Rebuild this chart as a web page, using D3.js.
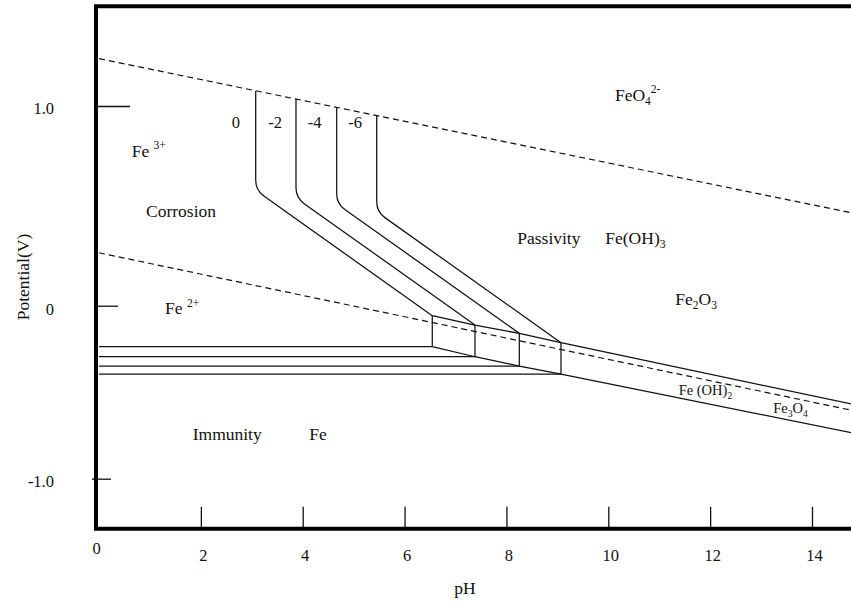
<!DOCTYPE html>
<html>
<head>
<meta charset="utf-8">
<script src="https://cdn.jsdelivr.net/npm/d3@7"></script>
<style>
  html, body { margin: 0; padding: 0; background: #fff; }
  svg { display: block; }
  text { font-family: "Liberation Serif", "Times New Roman", serif; fill: #111; }
</style>
</head>
<body>
<svg id="chart" width="851" height="603"></svg>
<script>
// ---------------- DATA ----------------
const pHTicks = [0, 2, 4, 6, 8, 10, 12, 14];
const VTicks = [-1, 0, 1];
const concLabels = ["0", "-2", "-4", "-6"];           // log activity of dissolved iron
const vertPH    = [3.077, 3.868, 4.667, 5.453];      // Fe3+/Fe2O3 boundary pH
const vertTopV  = [1.075, 1.035, 0.991, 0.950];      // top of vertical (on O2 line)
const cornerV   = [0.578, 0.540, 0.511, 0.470];      // Fe3+/Fe2+ corner potential
const kinkPH    = [6.544, 7.383, 8.253, 9.071];      // Fe2+/Fe2O3 meets oxide boundary
const kinkV     = [-0.058, -0.112, -0.160, -0.214];
const feV       = [-0.237, -0.295, -0.349, -0.395];  // Fe/Fe2+ potential
const o2Line    = [[0, 1.237], [14.8, 0.464]];       // dashed upper water line
const h2Line    = [[0, 0.265], [14.8, -0.606]];      // dashed lower water line
const upperEnd  = [14.8, -0.570];                    // Fe2O3 / Fe3O4 boundary end
const lowerEnd  = [14.8, -0.736];                    // Fe3O4 / Fe boundary end
const pHRange   = [0, 14.8];
const VRange    = [-1.29, 1.5];

const regionLabels = [
  { parts: [["Fe ", ""], ["3+", "sup"]], at: [0.642, 0.747] },
  { parts: [["Corrosion", ""]], at: [0.923, 0.444] },
  { parts: [["Fe ", ""], ["2+", "sup"]], at: [1.296, -0.048] },
  { parts: [["FeO", ""], ["4", "sub"], ["2-", "sup"]], at: [10.13, 1.027] },
  { parts: [["Passivity", ""]], at: [8.213, 0.309] },
  { parts: [["Fe(OH", ""], [")", ""], ["3", "sub"]], at: [9.941, 0.309] },
  { parts: [["Fe", ""], ["2", "sub"], ["O", ""], ["3", "sub"]], at: [11.316, 0.0035] },
  { parts: [["Fe (OH)", ""], ["2", "sub"]], at: [11.382, -0.516], small: true },
  { parts: [["Fe", ""], ["3", "sub"], ["O", ""], ["4", "sub"]], at: [13.24, -0.622], small: true },
  { parts: [["Immunity", ""]], at: [1.84, -0.776] },
  { parts: [["Fe", ""]], at: [4.129, -0.776] }
];
const concLabelPos = [[2.606, 0.888], [3.324, 0.888], [4.098, 0.888], [4.895, 0.888]];

// ---------------- SCALES ----------------
const W = 851, H = 603;
const svg = d3.select("#chart");
const x = d3.scaleLinear().domain([0, 14]).range([99, 812]);
const y = d3.scaleLinear().domain([-1, 0, 1]).range([478.7, 305.7, 106]);

const thin = 1.25;
const line = d3.line().x(d => x(d[0])).y(d => y(d[1]));

// ---------------- WATER LINES (dashed) ----------------
[o2Line, h2Line].forEach(l => {
  svg.append("path").attr("d", line(l))
    .attr("fill", "none").attr("stroke", "#111")
    .attr("stroke-width", 1.2).attr("stroke-dasharray", "6,4");
});

// ---------------- CONCENTRATION BOUNDARIES ----------------
const bend = 10;
concLabels.forEach((c, i) => {
  const tx = x(vertPH[i]), ty = y(vertTopV[i]);
  const cx = x(vertPH[i]), cy = y(cornerV[i]);
  const kx = x(kinkPH[i]), ky = y(kinkV[i]);
  const len = Math.hypot(kx - cx, ky - cy);
  const ux = (kx - cx) / len, uy = (ky - cy) / len;
  const p = d3.path();
  p.moveTo(tx, ty);
  p.lineTo(cx, cy - bend);
  p.quadraticCurveTo(cx, cy, cx + ux * bend, cy + uy * bend);
  p.lineTo(kx, ky);
  svg.append("path").attr("d", p.toString())
    .attr("fill", "none").attr("stroke", "#111").attr("stroke-width", thin);
  // vertical at kink down to Fe line
  svg.append("path").attr("d", line([[kinkPH[i], kinkV[i]], [kinkPH[i], feV[i]]]))
    .attr("fill", "none").attr("stroke", "#111").attr("stroke-width", thin);
  // horizontal Fe / Fe2+ line
  svg.append("path").attr("d", line([[pHRange[0], feV[i]], [kinkPH[i], feV[i]]]))
    .attr("fill", "none").attr("stroke", "#111").attr("stroke-width", thin);
  // label
  svg.append("text").attr("x", x(concLabelPos[i][0])).attr("y", y(concLabelPos[i][1]))
    .attr("font-size", 16.5).text(c);
});

// oxide boundaries
const upperPts = kinkPH.map((p, i) => [p, kinkV[i]]).concat([upperEnd]);
const lowerPts = kinkPH.map((p, i) => [p, feV[i]]).concat([lowerEnd]);
[upperPts, lowerPts].forEach(pts => {
  svg.append("path").attr("d", line(pts))
    .attr("fill", "none").attr("stroke", "#111").attr("stroke-width", thin);
});

// ---------------- REGION LABELS ----------------
regionLabels.forEach(l => {
  const base = l.small ? 14.5 : 17.5;
  const t = svg.append("text").attr("x", x(l.at[0])).attr("y", y(l.at[1]))
    .attr("font-size", base);
  let cur = 0;
  l.parts.forEach(([s, kind]) => {
    const target = kind === "sub" ? base * 0.25 : kind === "sup" ? -base * 0.42 : 0;
    const fs = kind === "" ? base : base * 0.66;
    t.append("tspan").attr("dy", target - cur).attr("font-size", fs).text(s);
    cur = target;
  });
});

// ---------------- AXES ----------------
const x0 = x(0) - 3;
const yTop = y(VRange[1]), yBot = y(VRange[0]);

const xAxis = d3.axisBottom(x).tickValues(pHTicks).tickSizeInner(-22).tickSizeOuter(0)
  .tickFormat(d => String(d));
const gx = svg.append("g").attr("transform", `translate(0,${yBot})`).call(xAxis);
gx.select(".domain").remove();
gx.selectAll(".tick line").attr("stroke", "#111").attr("stroke-width", 1.3)
  .attr("display", d => d === 0 ? "none" : null);
gx.selectAll(".tick text")
  .attr("font-family", "Liberation Serif").attr("font-size", 16.5).attr("fill", "#111")
  .attr("dy", 0)
  .attr("y", d => d === 0 ? 25 : 32)
  .attr("dx", d => d === 0 ? -3 : 2);

const yTickSpan = { "-1": [-4, 15], "0": [0, 22], "1": [0, 34] };
const yAxis = d3.axisLeft(y).tickValues(VTicks).tickSizeInner(-22).tickSizeOuter(0)
  .tickFormat(d => d === 0 ? "0" : d.toFixed(1));
const gy = svg.append("g").attr("transform", `translate(${x0},0)`).call(yAxis);
gy.select(".domain").remove();
gy.selectAll(".tick line").attr("stroke", "#111").attr("stroke-width", 1.3)
  .attr("x1", d => yTickSpan[String(d)][0]).attr("x2", d => yTickSpan[String(d)][1]);
gy.selectAll(".tick text")
  .attr("font-family", "Liberation Serif").attr("font-size", 16.5).attr("fill", "#111")
  .attr("x", -42).attr("dy", d => d === 0 ? "0.55em" : "0.45em");

// ---------------- FRAME ----------------
svg.append("path")
  .attr("d", `M${W + 10},${yTop} L${x0},${yTop} L${x0},${yBot} L${W + 10},${yBot}`)
  .attr("fill", "none").attr("stroke", "#000").attr("stroke-width", 4)
  .attr("stroke-linejoin", "miter");

// ---------------- AXIS TITLES ----------------
svg.append("text").attr("x", 465).attr("y", 594).attr("text-anchor", "middle")
  .attr("font-size", 17.5).text("pH");
svg.append("text").attr("transform", "translate(29,277) rotate(-90)")
  .attr("text-anchor", "middle").attr("font-size", 17.5).text("Potential(V)");
</script>
</body>
</html>
